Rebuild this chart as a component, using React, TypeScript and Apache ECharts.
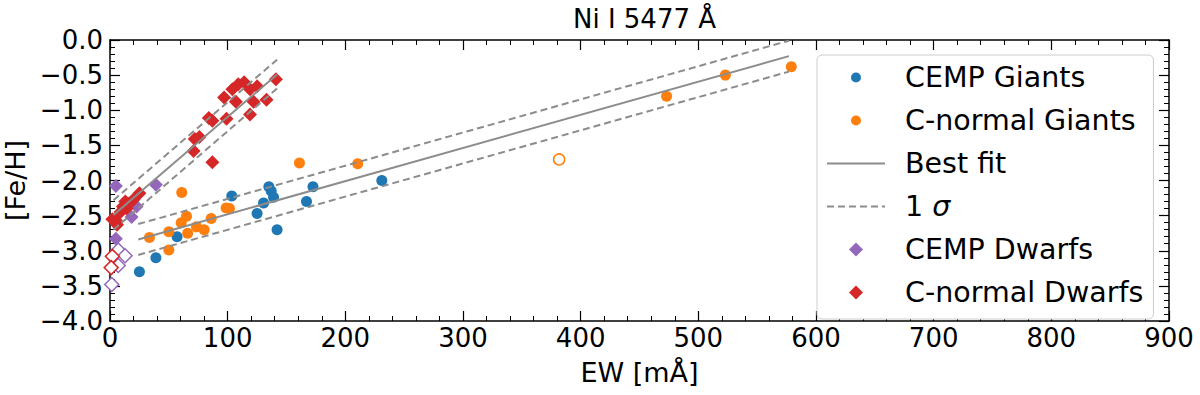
import React, { useEffect, useRef } from "react";
import * as echarts from "echarts";

// ---- data ----
const cempGiantsEW = [25, 39, 57, 103.5, 125, 130.5, 135, 137, 139, 142, 167, 172.5, 231];
const cempGiantsFeH = [-3.3, -3.1, -2.8, -2.22, -2.47, -2.32, -2.09, -2.15, -2.24, -2.7, -2.3, -2.09, -2.0];

const cnGiantsEW = [33.5, 50, 50, 61, 60.5, 65, 66, 73.5, 80, 86, 98.7, 101.5, 161, 210.5, 473, 523, 579];
const cnGiantsFeH = [-2.81, -2.73, -2.99, -2.17, -2.6, -2.51, -2.75, -2.66, -2.7, -2.54, -2.39, -2.4, -1.75, -1.76, -0.8, -0.5, -0.38];

const cnGiantsOpenEW = [381.7];
const cnGiantsOpenFeH = [-1.7];

const cempDwarfsEW = [5, 39, 22.6, 18.4, 5];
const cempDwarfsFeH = [-2.08, -2.06, -2.37, -2.52, -2.83];

const cempDwarfsOpenEW = [7, 12.8, 7, 1.5];
const cempDwarfsOpenFeH = [-2.99, -3.07, -3.21, -3.48];

const cnDwarfsEW = [141, 133, 125, 122, 119, 119, 114, 109, 104, 107, 97, 99, 84, 87, 72, 76, 71, 87,
  25, 20, 16, 14, 11, 9, 5, 6, 2, 13];
const cnDwarfsFeH = [-0.56, -0.85, -0.66, -0.88, -0.7, -1.06, -0.6, -0.63, -0.7, -0.88, -0.82, -1.12, -1.11, -1.15, -1.41, -1.38, -1.58, -1.74,
  -2.18, -2.27, -2.33, -2.4, -2.37, -2.45, -2.57, -2.63, -2.55, -2.3];

const cnDwarfsOpenEW = [2, 1];
const cnDwarfsOpenFeH = [-3.08, -3.24];

// fit lines (end points)
const giantFitEW = [24, 577];
const giantFitFeH = [-2.84, -0.23];
const giantUpperFeH = [-2.62, -0.01];
const giantLowerFeH = [-3.06, -0.45];

const dwarfFitEW = [3, 142];
const dwarfFitFeH = [-2.49, -0.49];
const dwarfUpperFeH = [-2.28, -0.28];
const dwarfLowerFeH = [-2.7, -0.69];

const xTickMin = 0, xTickMax = 900, xTickStep = 100;
const yTickMin = -4, yTickMax = 0, yTickStep = 0.5;

const BLUE = "#1f77b4";
const ORANGE = "#ff7f0e";
const PURPLE = "#9467bd";
const RED = "#d62728";
const GRAY = "#8c8c8c";
const FONT = "DejaVu Sans";

const zip = (xs: number[], ys: number[]) => xs.map((x, i) => [x, ys[i]]);

// legend icons (bounding points keep the marker at its true size inside the icon box)
const circleIcon = "path://M0,0L0.01,0M14,14L14.01,14M12,7A5,5,0,1,1,2,7A5,5,0,1,1,12,7Z";
const diamondIcon = "path://M7,0L14,7L7,14L0,7Z";
const solidIcon = "path://M0,0L0.01,0M58,14L58.01,14M0,6L58,6L58,8L0,8Z";
const dashIcon =
  "path://M0,0L0.01,0M58,14L58.01,14" +
  "M0,6L7,6L7,8L0,8Z" +
  "M11,6L18,6L18,8L11,8Z" +
  "M22,6L29,6L29,8L22,8Z" +
  "M33,6L40,6L40,8L33,8Z" +
  "M44,6L51,6L51,8L44,8Z" +
  "M55,6L58,6L58,8L55,8Z";

export default function App() {
  const ref = useRef<HTMLDivElement>(null);
  useEffect(() => {
    if (!ref.current) return;
    const chart = echarts.init(ref.current, undefined, { renderer: "svg" });

    const axisCommon = {
      type: "value" as const,
      axisLine: { show: true, onZero: false, lineStyle: { color: "#000", width: 1.5 } },
      axisTick: { show: true, inside: true, length: 10, lineStyle: { color: "#000", width: 1.2 } },
      minorTick: { show: true, splitNumber: 5, length: 5, lineStyle: { color: "#000", width: 1 } },
      splitLine: { show: false },
      minorSplitLine: { show: false },
    };

    const xBase = { ...axisCommon, min: xTickMin, max: xTickMax, interval: xTickStep };
    const yBase = { ...axisCommon, min: yTickMin, max: yTickMax, interval: yTickStep };

    const scatter = (name: string, ew: number[], feh: number[], symbol: string, size: number, color: string, open = false) => ({
      name,
      type: "scatter",
      xAxisIndex: 0,
      yAxisIndex: 0,
      data: zip(ew, feh),
      symbol,
      symbolSize: size,
      itemStyle: open
        ? { color: "#fff", borderColor: color, borderWidth: 1.5, opacity: 1 }
        : { color, opacity: 1 },
      z: 2,
    });

    const line = (name: string, ew: number[], feh: number[], dashed: boolean) => ({
      name,
      type: "line",
      xAxisIndex: 0,
      yAxisIndex: 0,
      data: zip(ew, feh),
      symbol: "none",
      lineStyle: { color: GRAY, width: 2, type: dashed ? [7, 4] : "solid" },
      itemStyle: { color: GRAY },
      z: 5,
    });

    chart.setOption({
      animation: false,
      backgroundColor: "#fff",
      textStyle: { fontFamily: FONT },
      title: {
        text: "Ni I 5477 Å",
        left: 639.5,
        textAlign: "center",
        top: 1,
        textStyle: { fontFamily: FONT, fontSize: 26, fontWeight: "normal", color: "#000" },
      },
      grid: { left: 110, right: 31, top: 40, bottom: 74, containLabel: false, outerBoundsMode: "none" },
      xAxis: [
        {
          ...xBase,
          position: "bottom",
          name: "EW [mÅ]",
          nameLocation: "middle",
          nameGap: 38,
          nameTextStyle: { fontFamily: FONT, fontSize: 27, color: "#000" },
          axisLabel: { fontFamily: FONT, fontSize: 26, color: "#000", margin: 4 },
        },
        { ...xBase, position: "top", axisLabel: { show: false } },
      ],
      yAxis: [
        {
          ...yBase,
          position: "left",
          name: "[Fe/H]",
          nameLocation: "middle",
          nameGap: 78,
          nameTextStyle: { fontFamily: FONT, fontSize: 27, color: "#000" },
          axisLabel: {
            fontFamily: FONT,
            fontSize: 26,
            color: "#000",
            margin: 7,
            formatter: (v: number) => (Math.abs(v) < 1e-9 ? "0.0" : "\u2212" + Math.abs(v).toFixed(1)),
          },
        },
        { ...yBase, position: "right", axisLabel: { show: false } },
      ],
      legend: {
        orient: "vertical",
        left: 817,
        top: 55,
        padding: [8, 10, 12, 10],
        itemGap: 14,
        itemWidth: 58,
        itemHeight: 14,
        symbolKeepAspect: true,
        backgroundColor: "#fff",
        borderColor: "#cccccc",
        borderWidth: 1,
        borderRadius: 5,
        textStyle: {
          fontFamily: FONT,
          fontSize: 28.5,
          color: "#000",
          lineHeight: 28,
          padding: [0, 0, 0, 15],
          rich: { i: { fontFamily: FONT, fontSize: 28.5, fontStyle: "italic", color: "#000", lineHeight: 28 } },
        },
        formatter: (name: string) => (name === "1 σ" ? "1 {i|σ}" : name),
        data: [
          { name: "CEMP Giants", icon: circleIcon },
          { name: "C-normal Giants", icon: circleIcon },
          { name: "Best fit", icon: solidIcon, itemStyle: { color: GRAY, borderWidth: 0 } },
          { name: "1 σ", icon: dashIcon, itemStyle: { color: GRAY, borderWidth: 0 } },
          { name: "CEMP Dwarfs", icon: diamondIcon },
          { name: "C-normal Dwarfs", icon: diamondIcon },
        ],
      },
      series: [
        scatter("CEMP Giants", cempGiantsEW, cempGiantsFeH, "circle", 11, BLUE),
        scatter("C-normal Giants", cnGiantsEW, cnGiantsFeH, "circle", 11, ORANGE),
        scatter("C-normal Giants (limit)", cnGiantsOpenEW, cnGiantsOpenFeH, "circle", 11, ORANGE, true),
        scatter("CEMP Dwarfs", cempDwarfsEW, cempDwarfsFeH, "diamond", 14, PURPLE),
        scatter("CEMP Dwarfs (limit)", cempDwarfsOpenEW, cempDwarfsOpenFeH, "diamond", 14, PURPLE, true),
        scatter("C-normal Dwarfs", cnDwarfsEW, cnDwarfsFeH, "diamond", 14, RED),
        scatter("C-normal Dwarfs (limit)", cnDwarfsOpenEW, cnDwarfsOpenFeH, "diamond", 14, RED, true),
        line("Best fit", giantFitEW, giantFitFeH, false),
        line("Best fit", dwarfFitEW, dwarfFitFeH, false),
        line("1 σ", giantFitEW, giantUpperFeH, true),
        line("1 σ", giantFitEW, giantLowerFeH, true),
        line("1 σ", dwarfFitEW, dwarfUpperFeH, true),
        line("1 σ", dwarfFitEW, dwarfLowerFeH, true),
      ],
    });

    return () => chart.dispose();
  }, []);

  return (
    <div
      ref={ref}
      style={{ position: "fixed", left: 0, top: 0, width: 1200, height: 395, background: "#fff" }}
    />
  );
}
